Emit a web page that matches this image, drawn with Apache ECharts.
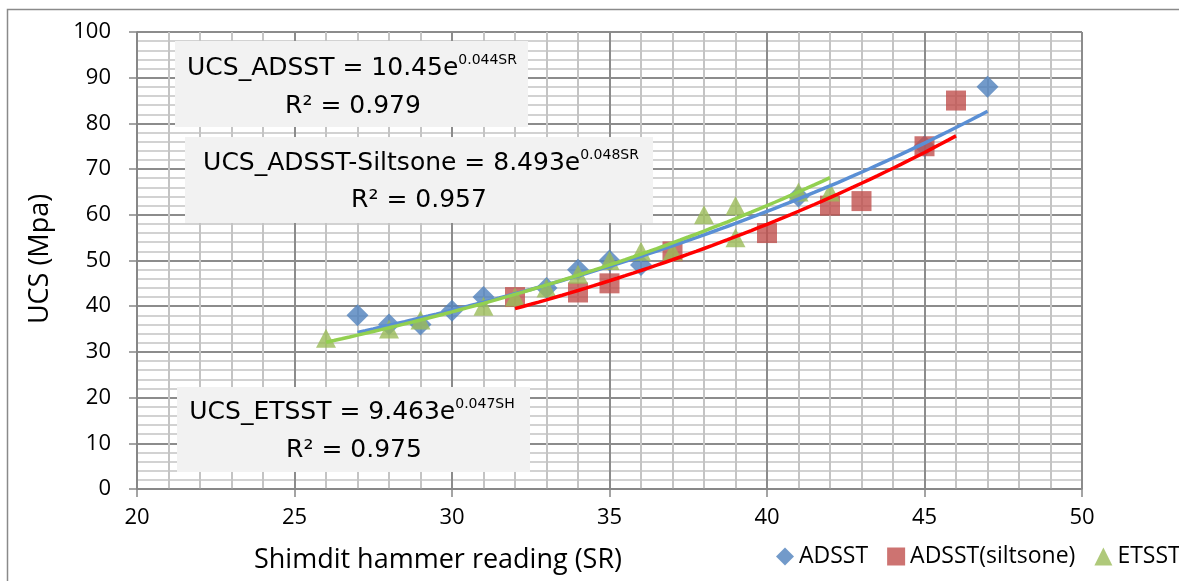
<!DOCTYPE html>
<html lang="en">
<head>
    <meta charset="UTF-8">
    <title>UCS vs Schmidt hammer</title>
    <style>
        html, body { margin: 0; padding: 0; background: #fff; }
    </style>
</head>
<body>
    <div id="chart" style="width:1179px; height:581px"></div>
    <script src="https://cdn.jsdelivr.net/npm/echarts@6/dist/echarts.min.js"></script>
    <script>
        // measured points [SR, UCS]
        const adsst = [[27, 38], [28, 36], [29, 36], [30, 39], [31, 42], [33, 44], [34, 48], [35, 50], [36, 49], [41, 64], [45, 75], [47, 88]];
        const adsstSilt = [[32, 42], [34, 43], [35, 45], [37, 52], [40, 56], [42, 62], [43, 63], [45, 75], [46, 85]];
        const etsst = [[26, 33], [28, 35], [29, 37], [31, 40], [32, 42], [33, 44], [34, 47], [35, 50], [36, 52], [37, 52], [38, 60], [39, 62], [39, 55], [41, 65], [42, 65]];

        // exponential trendlines y = a*e^(b*x), as printed on the chart
        const trendNames = ['ADSST fit', 'siltsone fit', 'ETSST fit'];
        const trendA = [10.45, 8.493, 9.463];
        const trendB = [0.044, 0.048, 0.047];
        const trendFrom = [27, 32, 26];
        const trendTo = [47, 46, 42];
        const trendColors = ['#5a8fd5', '#ff0000', '#92d050'];

        const xTicks = [20, 25, 30, 35, 40, 45, 50];
        const yTicks = [0, 10, 20, 30, 40, 50, 60, 70, 80, 90, 100];

        const FONT = 'Open Sans';
        const BOXFONT = 'DejaVu Sans';

        function trendLine(i) {
            const pts = [];
            for (let x = trendFrom[i]; x <= trendTo[i] + 1e-9; x += 0.25) {
                pts.push([x, trendA[i] * Math.exp(trendB[i] * x)]);
            }
            return pts;
        }

        // label box: rect + two centered lines
        function labelBox(r, l1, l1x, l1y, l2, l2x, l2y) {
            const rich = {
                m: { fontSize: 25, fontFamily: BOXFONT, fill: '#000', lineHeight: 30 },
                s: { fontSize: 14, fontFamily: BOXFONT, fill: '#000', lineHeight: 22, verticalAlign: 'top' }
            };
            return [
                { type: 'rect', shape: { x: r[0], y: r[1], width: r[2], height: r[3] }, style: { fill: '#f2f2f2' }, z: 50 },
                { type: 'text', x: l1x, y: l1y, z: 51, style: { text: l1, rich: rich, align: 'center', verticalAlign: 'middle' } },
                { type: 'text', x: l2x, y: l2y, z: 51, style: { text: l2, rich: rich, align: 'center', verticalAlign: 'middle' } }
            ];
        }

        const chart = echarts.init(document.getElementById('chart'));

        chart.setOption({
            animation: false,
            grid: { left: 137, top: 32, width: 945, height: 457 },
            legend: {
                data: [
                    { name: 'ADSST', icon: 'diamond' },
                    { name: 'ADSST(siltsone)', icon: 'rect' },
                    { name: 'ETSST', icon: 'triangle' }
                ],
                left: 776,
                top: 545,
                width: 520,
                padding: 0,
                itemWidth: 18,
                itemHeight: 18,
                itemGap: 19,
                textStyle: { fontFamily: FONT, fontSize: 23, color: '#000' }
            },
            xAxis: {
                type: 'value',
                min: xTicks[0],
                max: xTicks[xTicks.length - 1],
                interval: 5,
                axisLine: { lineStyle: { color: '#868686', width: 1.5 } },
                axisTick: { show: true, length: 8, lineStyle: { color: '#868686', width: 1.5 } },
                axisLabel: { margin: 18, fontFamily: FONT, fontSize: 22, color: '#000' },
                splitLine: { show: true, lineStyle: { color: '#8c8c8c', width: 2 } },
                minorTick: { show: false, splitNumber: 5 },
                minorSplitLine: { show: true, lineStyle: { color: '#c4c4c4', width: 2 } }
            },
            yAxis: {
                type: 'value',
                min: yTicks[0],
                max: yTicks[yTicks.length - 1],
                interval: 10,
                axisLine: { show: true, lineStyle: { color: '#868686', width: 1.5 } },
                axisTick: { show: true, length: 8, lineStyle: { color: '#868686', width: 1.5 } },
                axisLabel: { margin: 26, fontFamily: FONT, fontSize: 22, color: '#000' },
                splitLine: { show: true, lineStyle: { color: '#8c8c8c', width: 2 } },
                minorTick: { show: false, splitNumber: 5 },
                minorSplitLine: { show: true, lineStyle: { color: '#c4c4c4', width: 1.5 } }
            },
            graphic: [
                { type: 'rect', shape: { x: 7.5, y: 9.5, width: 1200, height: 600 }, style: { fill: null, stroke: '#8a8a8a', lineWidth: 1.5 }, z: -10, silent: true },
                { type: 'text', x: 40, y: 259, rotation: Math.PI / 2, style: { text: 'UCS (Mpa)', fontFamily: FONT, fontSize: 27, fill: '#000', align: 'center', verticalAlign: 'middle' } },
                { type: 'text', x: 438, y: 560, style: { text: 'Shimdit hammer reading (SR)', fontFamily: FONT, fontSize: 27, fill: '#000', align: 'center', verticalAlign: 'middle' } },
                ...labelBox([175, 41, 353, 86], '{m|UCS_ADSST = 10.45e}{s|0.044SR}', 352, 68, '{m|R² = 0.979}', 353, 106),
                ...labelBox([185, 137, 468, 86], '{m|UCS_ADSST-Siltsone = 8.493e}{s|0.048SR}', 421, 163, '{m|R² = 0.957}', 419, 200),
                ...labelBox([177, 387, 353, 85], '{m|UCS_ETSST = 9.463e}{s|0.047SH}', 352, 412, '{m|R² = 0.975}', 354, 450)
            ],
            series: [
                {
                    name: 'ADSST', type: 'scatter', symbol: 'diamond', symbolSize: 22,
                    itemStyle: { color: '#4f81bd' }, data: adsst
                },
                {
                    name: 'ADSST(siltsone)', type: 'scatter', symbol: 'rect', symbolSize: 20,
                    itemStyle: { color: '#c0504d' }, data: adsstSilt
                },
                {
                    name: 'ETSST', type: 'scatter', symbol: 'triangle', symbolSize: [20, 19],
                    itemStyle: { color: '#9bbb59' }, data: etsst
                },
                ...[1, 0, 2].map(i => ({
                    name: trendNames[i], type: 'line', showSymbol: false, silent: true,
                    lineStyle: { color: trendColors[i], width: 3.5 },
                    data: trendLine(i)
                }))
            ]
        });
    </script>
</body>
</html>
